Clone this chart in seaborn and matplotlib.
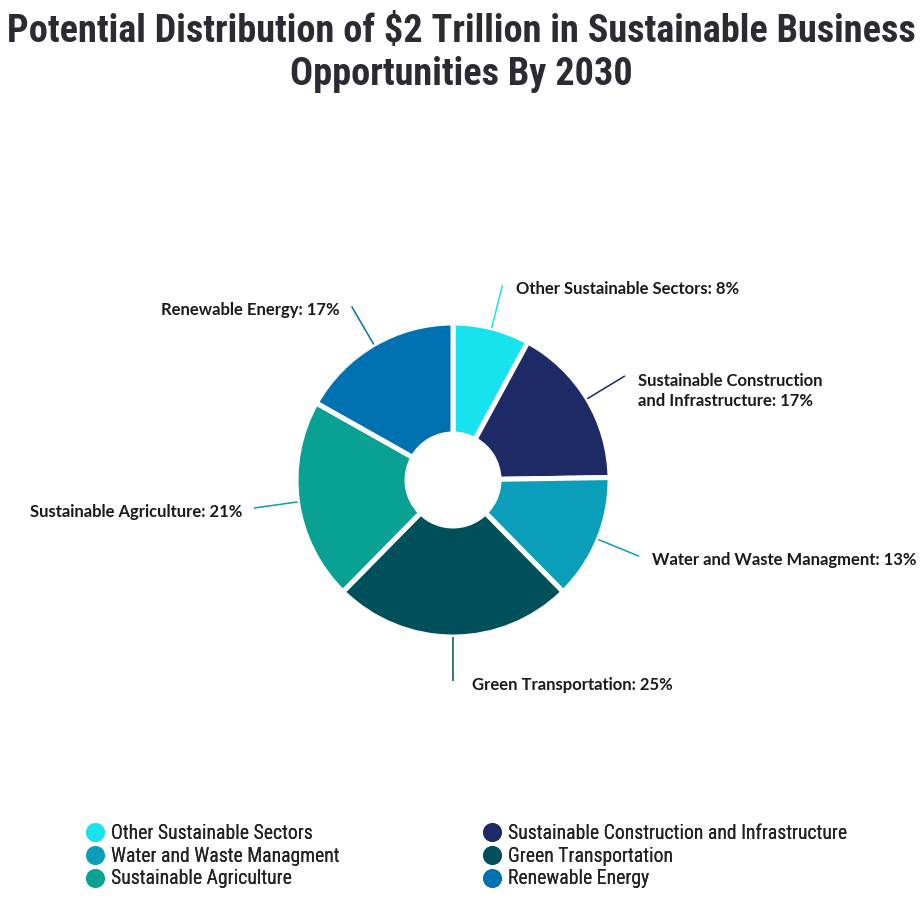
import numpy as np
import matplotlib
matplotlib.use("Agg")
import matplotlib.pyplot as plt
from matplotlib import font_manager as fm
from matplotlib.lines import Line2D
import seaborn as sns

# ---------------- data ----------------
categories = ["Other Sustainable Sectors",
              "Sustainable Construction and Infrastructure",
              "Water and Waste Managment",
              "Green Transportation",
              "Sustainable Agriculture",
              "Renewable Energy"]
label_texts = ["Other Sustainable Sectors",
               "Sustainable Construction\nand Infrastructure",
               "Water and Waste Managment",
               "Green Transportation",
               "Sustainable Agriculture",
               "Renewable Energy"]
values = [8, 17, 13, 25, 21, 17]
colors = ["#17E3EF", "#1D2A66", "#0A9EBA", "#00505C", "#0AA195", "#0072B2"]
title = "Potential Distribution of $2 Trillion in Sustainable Business\nOpportunities By 2030"

# ---------------- style ----------------
sns.set_theme(style="white")
names = {f.name for f in fm.fontManager.ttflist}
if "Roboto Condensed" in names:
    title_font, title_size = "Roboto Condensed", 27.5
    legend_font, legend_size = "Roboto Condensed", 14.2
else:
    title_font, title_size = "Roboto", 22.5
    legend_font, legend_size = "Roboto", 12.5
label_font = "Lato" if "Lato" in names else "Open Sans"
plt.rcParams["font.family"] = [label_font, "DejaVu Sans"]

W, H = 923, 899
fig = plt.figure(figsize=(W / 100, H / 100), dpi=100)
fig.patch.set_facecolor("white")
ax = fig.add_axes([0, 0, 1, 1])
ax.set_xlim(0, W)
ax.set_ylim(0, H)
ax.set_axis_off()

cx, cy = 453, H - 480
R, r_in = 157, 46

wedges, _ = ax.pie(values, colors=colors, startangle=90, counterclock=False,
                   radius=R, center=(cx, cy), normalize=True,
                   wedgeprops=dict(width=R - r_in, edgecolor="white", linewidth=3.6))
ax.set_xlim(0, W)
ax.set_ylim(0, H)
ax.set_aspect("equal")

# leader lines & labels
for w, txt, v, c in zip(wedges, label_texts, values, colors):
    ang = np.deg2rad((w.theta1 + w.theta2) / 2)
    ca, sa = np.cos(ang), np.sin(ang)
    x0, y0 = cx + R * ca, cy + R * sa
    x1, y1 = cx + 201 * ca, cy + 201 * sa
    ax.plot([x0, x1], [y0, y1], color=c, lw=1.1, solid_capstyle="butt")
    nlines = txt.count("\n") + 1
    if ca >= -0.05:
        tx, ha = x1 + (13 if abs(ca) > 0.1 else 19), "left"
    else:
        tx, ha = x1 - 12, "right"
    ty = y1 - 4 - 11 * (nlines - 1)
    ax.text(tx, ty, f"{txt}: {v}%", ha=ha, va="center", fontsize=12.0,
            fontweight="bold", color="#1a1a1a", linespacing=1.25,
            family=[label_font, "DejaVu Sans"])

# title
fig.text(461 / W, 1 - 53 / H, title, ha="center", va="center",
         fontsize=title_size, fontweight="bold", color="#2b2b33",
         family=[title_font, "DejaVu Sans"], linespacing=1.18)

# legends (two columns)
handles = [Line2D([], [], marker="o", linestyle="none", markersize=12.5,
                  markerfacecolor=c, markeredgecolor=c) for c in colors]
cols = [[0, 2, 4], [1, 3, 5]]
xs = [85, 482]
for xi, idx in zip(xs, cols):
    leg = fig.legend([handles[i] for i in idx], [categories[i] for i in idx],
                     loc="center left", bbox_to_anchor=(xi / W, 1 - 856 / H),
                     frameon=False, borderpad=0, borderaxespad=0,
                     handlelength=1.0, handletextpad=0.3, labelspacing=0.2,
                     prop={"family": [legend_font, "DejaVu Sans"], "size": legend_size})
    for t in leg.get_texts():
        t.set_color("#222222")
    fig.add_artist(leg)

fig.savefig("out.png", dpi=100, facecolor="white")
